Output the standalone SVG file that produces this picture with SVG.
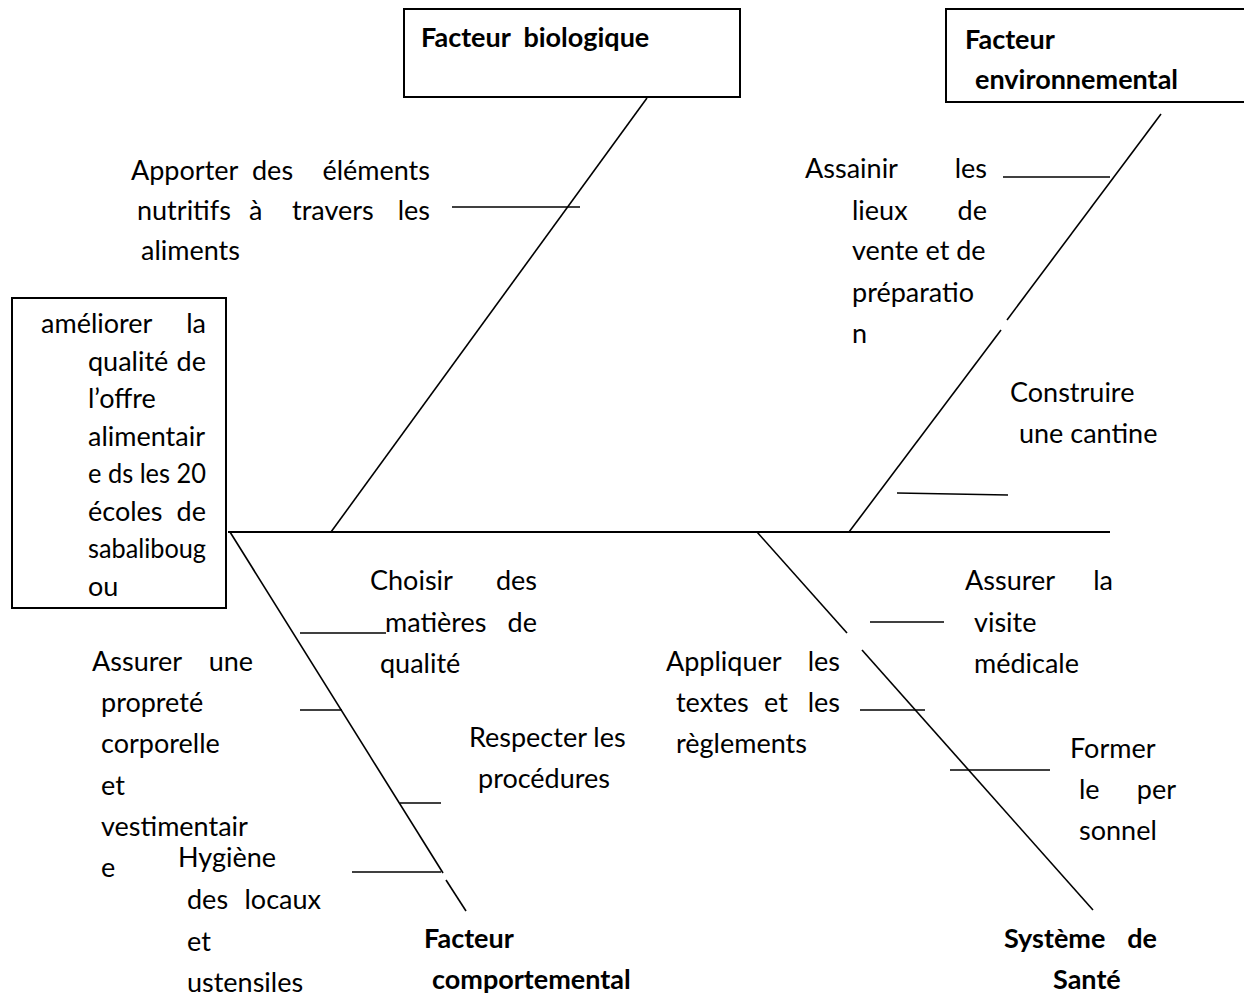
<svg xmlns="http://www.w3.org/2000/svg" width="1244" height="998" viewBox="0 0 1244 998">
<style>
text{font-family:Lato,"Open Sans","Liberation Sans",sans-serif;font-size:27px;fill:#000}
.b{font-weight:bold}
.e{text-anchor:end}
.box{fill:#fff;stroke:#000;stroke-width:2}
.ln{stroke:#000;stroke-width:1.6;fill:none}
.sp{stroke:#000;stroke-width:2;fill:none}
</style>
<rect width="1244" height="998" fill="#fff"/>
<g id="connectors">
<line class="sp" x1="228" y1="532" x2="1110" y2="532"/>
<line class="ln" x1="331" y1="532" x2="647" y2="98"/>
<line class="ln" x1="849" y1="532" x2="1001" y2="330"/>
<line class="ln" x1="1007" y1="320" x2="1161" y2="114"/>
<line class="ln" x1="230" y1="532" x2="443" y2="873"/>
<line class="ln" x1="446" y1="880" x2="466" y2="911"/>
<line class="ln" x1="757" y1="532" x2="847" y2="633"/>
<line class="ln" x1="862" y1="650" x2="1093" y2="910"/>
<line class="ln" x1="452" y1="207" x2="580" y2="207"/>
<line class="ln" x1="1003" y1="177" x2="1110" y2="177"/>
<line class="ln" x1="897" y1="493" x2="1008" y2="495"/>
<line class="ln" x1="300" y1="633" x2="386" y2="633"/>
<line class="ln" x1="300" y1="710" x2="342" y2="710"/>
<line class="ln" x1="400" y1="803" x2="441" y2="803"/>
<line class="ln" x1="352" y1="872" x2="441" y2="872"/>
<line class="ln" x1="870" y1="622" x2="944" y2="622"/>
<line class="ln" x1="860" y1="710" x2="925" y2="710"/>
<line class="ln" x1="950" y1="770" x2="1050" y2="770"/>
</g>
<g id="head">
<rect class="box" x="12" y="298" width="214" height="310"/>
<text><tspan x="41" y="333">améliorer</tspan><tspan class="e" x="206" y="333">la</tspan></text>
<text><tspan x="88" y="371">qualité</tspan><tspan class="e" x="206" y="371">de</tspan></text>
<text x="88" y="408">l’offre</text>
<text x="88" y="446">alimentair</text>
<text x="88" y="483" textLength="118" lengthAdjust="spacingAndGlyphs">e ds les 20</text>
<text><tspan x="88" y="521">écoles</tspan><tspan class="e" x="206" y="521">de</tspan></text>
<text x="88" y="558" textLength="118" lengthAdjust="spacingAndGlyphs">sabaliboug</text>
<text x="88" y="596">ou</text>
</g>
<g id="bio">
<rect class="box" x="404" y="9" width="336" height="88"/>
<text class="b" x="421" y="47" xml:space="preserve">Facteur  biologique</text>
<text><tspan x="131" y="180">Apporter</tspan><tspan x="252" y="180">des</tspan><tspan class="e" x="430" y="180">éléments</tspan></text>
<text><tspan x="137" y="220">nutritifs</tspan><tspan x="249" y="220">à</tspan><tspan x="292" y="220">travers</tspan><tspan class="e" x="430" y="220">les</tspan></text>
<text x="141" y="260">aliments</text>
</g>
<g id="env">
<rect class="box" x="946" y="9" width="310" height="93"/>
<text class="b" x="965" y="49">Facteur</text>
<text class="b" x="975" y="89">environnemental</text>
<text><tspan x="805" y="178">Assainir</tspan><tspan class="e" x="987" y="178">les</tspan></text>
<text><tspan x="852" y="220">lieux</tspan><tspan class="e" x="987" y="220">de</tspan></text>
<text x="852" y="260">vente et de</text>
<text x="852" y="302">préparatio</text>
<text x="852" y="343">n</text>
<text x="1010" y="402">Construire</text>
<text x="1019" y="443">une cantine</text>
</g>
<g id="comport">
<text class="b" x="424" y="948">Facteur</text>
<text class="b" x="432" y="989">comportemental</text>
<text><tspan x="370" y="590">Choisir</tspan><tspan class="e" x="537" y="590">des</tspan></text>
<text><tspan x="385" y="632">matières</tspan><tspan class="e" x="537" y="632">de</tspan></text>
<text x="380" y="673">qualité</text>
<text><tspan x="92" y="671">Assurer</tspan><tspan class="e" x="253" y="671">une</tspan></text>
<text x="101" y="712">propreté</text>
<text x="101" y="753">corporelle</text>
<text x="101" y="795">et</text>
<text x="101" y="836">vestimentair</text>
<text x="101" y="877">e</text>
<text x="178" y="867">Hygiène</text>
<text><tspan x="187" y="909">des</tspan><tspan class="e" x="321" y="909">locaux</tspan></text>
<text x="187" y="951">et</text>
<text x="187" y="992">ustensiles</text>
<text x="469" y="747">Respecter les</text>
<text x="478" y="788">procédures</text>
</g>
<g id="sante">
<text class="b"><tspan x="1004" y="948">Système</tspan><tspan class="e" x="1157" y="948">de</tspan></text>
<text class="b" x="1053" y="989">Santé</text>
<text><tspan x="965" y="590">Assurer</tspan><tspan class="e" x="1113" y="590">la</tspan></text>
<text x="974" y="632">visite</text>
<text x="974" y="673">médicale</text>
<text><tspan x="666" y="671">Appliquer</tspan><tspan class="e" x="840" y="671">les</tspan></text>
<text><tspan x="676" y="712">textes</tspan><tspan x="764" y="712">et</tspan><tspan class="e" x="840" y="712">les</tspan></text>
<text x="676" y="753">règlements</text>
<text x="1070" y="758">Former</text>
<text><tspan x="1079" y="799">le</tspan><tspan class="e" x="1176" y="799">per</tspan></text>
<text x="1079" y="840">sonnel</text>
</g>
</svg>
